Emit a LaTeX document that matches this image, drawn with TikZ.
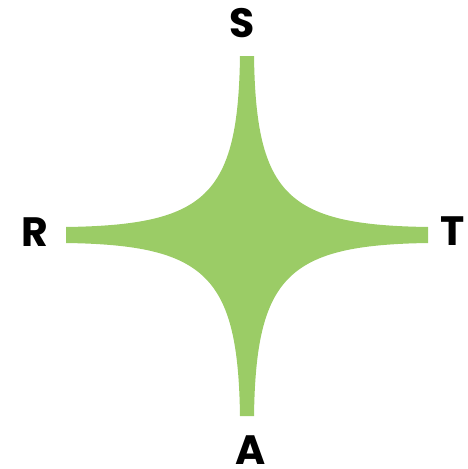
\documentclass[tikz,border=0pt]{standalone}
\usepackage{fontspec}
\setmainfont{Poppins}
\definecolor{stargreen}{RGB}{155,204,102}
\begin{document}
\begin{tikzpicture}[x=1pt,y=-1pt,
  lbl/.style={inner sep=0pt,font=\fontsize{41}{41}\selectfont\bfseries,text=black}]
\useasboundingbox (0,0) rectangle (468,469);
\fill[stargreen]
  (254,56) .. controls (256,196) and (288,225) .. (428,227)
  -- (428,243) .. controls (288,245) and (256,276) .. (254,416)
  -- (240,416) .. controls (238,276) and (206,245) .. (66,243)
  -- (66,227) .. controls (206,225) and (238,196) .. (240,56)
  -- cycle;
\node[lbl] (S) at (242.5,23) {S};
\node[lbl] (R) at (34.5,232) {R};
\node[lbl] (T) at (453,231) {T};
\node[lbl] (A) at (251,450) {A};
\end{tikzpicture}
\end{document}
